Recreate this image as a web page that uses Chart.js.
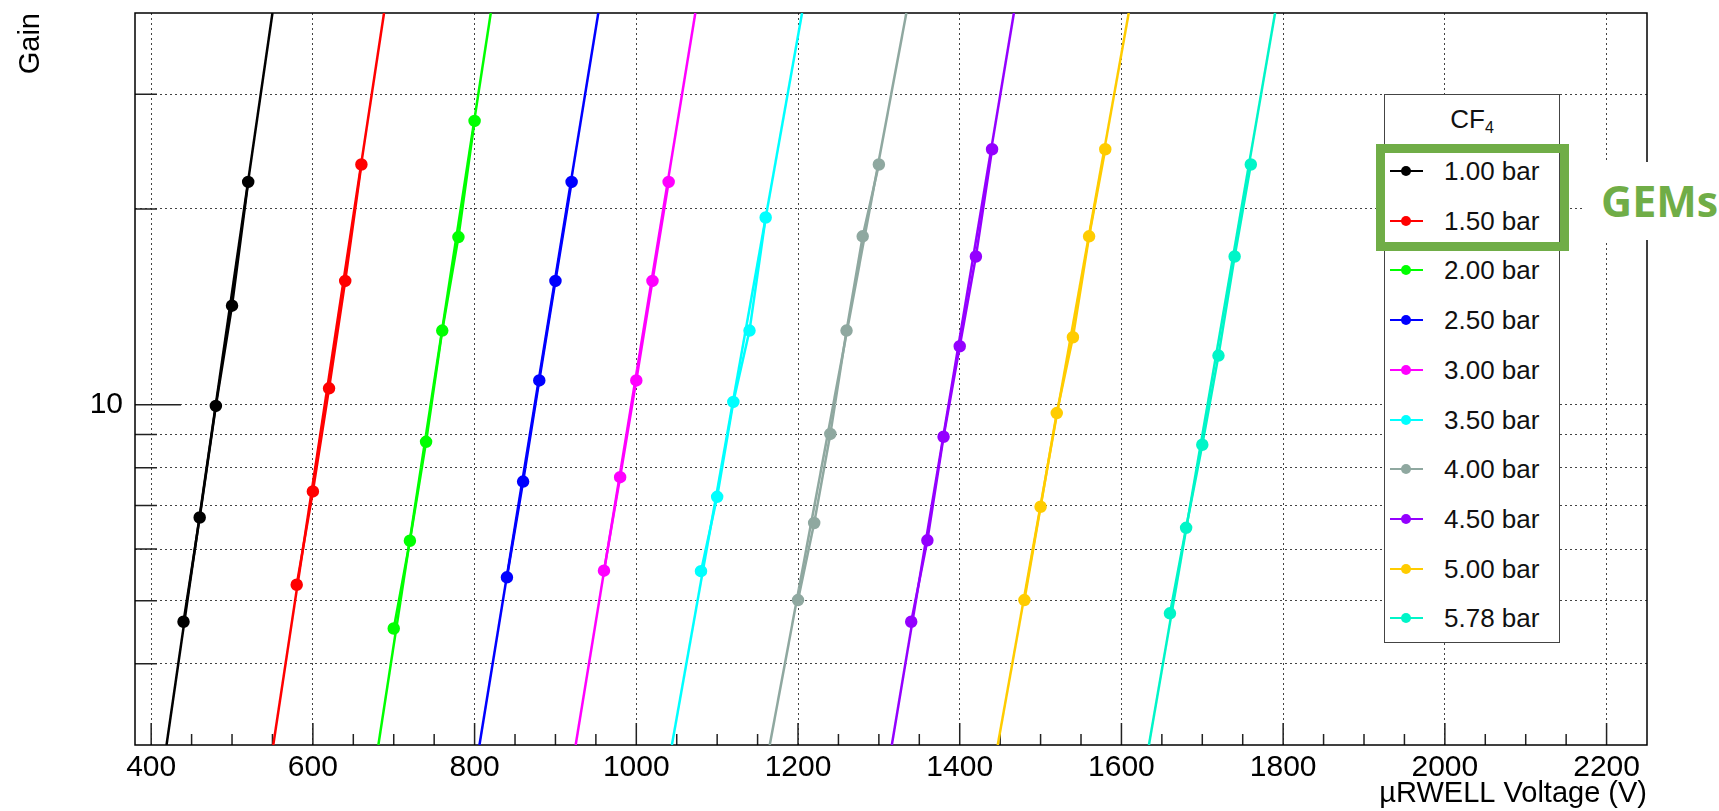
<!DOCTYPE html>
<html>
<head>
<meta charset="utf-8">
<title>Gain vs µRWELL Voltage</title>
<script src="https://cdn.jsdelivr.net/npm/chart.js@4.4.1/dist/chart.umd.min.js"></script>
<style>
  html, body { margin: 0; padding: 0; background: #fff; }
  #wrap { position: relative; width: 1719px; height: 811px; overflow: hidden; font-family: "Liberation Sans", Arial, sans-serif; }
  #legend { position: absolute; left: 1384px; top: 94px; width: 174px; height: 547px; border: 1.5px solid #444; background: #fff; }
  #legend .row { position: absolute; left: 0; width: 174px; height: 50px; line-height: 50px; font-size: 26px; color: #111; }
  #legend .title { text-align: center; }
  #legend .title sub { font-size: 16px; vertical-align: -5px; line-height: 0; }
  #legend .line { position: absolute; left: 5px; top: 24px; width: 33px; height: 2px; }
  #legend .dot { position: absolute; left: 16px; top: 20px; width: 10px; height: 10px; border-radius: 50%; }
  #legend .txt { position: absolute; left: 59px; top: 0; }
  #gemsBox { position: absolute; left: 1376px; top: 144px; width: 193px; height: 107px; box-sizing: border-box; border: 9px solid #70AD47; }
  #gemsLabel { position: absolute; left: 1582px; top: 162px; width: 137px; height: 78px; background: #fff; box-sizing: border-box; padding-left: 19px; line-height: 78px; font-family: "Open Sans", "Noto Sans", sans-serif; font-weight: bold; font-size: 43px; color: #70AD47; }
</style>
</head>
<body>
<div id="wrap">
  <canvas id="gainChart" width="1719" height="811"></canvas>
  <div id="legend"></div>
  <div id="gemsBox"></div>
  <div id="gemsLabel">GEMs</div>
</div>
<script>
// CF4 pressures and colours (ROOT palette)
const seriesLabels = ['1.00 bar', '1.50 bar', '2.00 bar', '2.50 bar', '3.00 bar', '3.50 bar', '4.00 bar', '4.50 bar', '5.00 bar', '5.78 bar'];
const seriesColors = ['#000000', '#ff0000', '#00ff00', '#0000ff', '#ff00ff', '#00ffff', '#8fa8a0', '#9400ff', '#ffcc00', '#00f5c8'];

// measured points, voltage (V) and gain
const voltage100 = [440, 460, 480, 500, 520];
const gain100 = [4.64, 6.71, 9.96, 14.2, 22.0];
const voltage150 = [580, 600, 620, 640, 660];
const gain150 = [5.29, 7.36, 10.6, 15.5, 23.4];
const voltage200 = [700, 720, 740, 760, 780, 800];
const gain200 = [4.53, 6.18, 8.77, 13.0, 18.1, 27.3];
const voltage250 = [840, 860, 880, 900, 920];
const gain250 = [5.43, 7.62, 10.9, 15.5, 22.0];
const voltage300 = [960, 980, 1000, 1020, 1040];
const gain300 = [5.56, 7.74, 10.9, 15.5, 22.0];
const voltage350 = [1080, 1100, 1120, 1140, 1160];
const gain350 = [5.55, 7.22, 10.1, 13.0, 19.4];
const voltage400 = [1200, 1220, 1240, 1260, 1280, 1300];
const gain400 = [5.01, 6.58, 9.02, 13.0, 18.15, 23.4];
const voltage450 = [1340, 1360, 1380, 1400, 1420, 1440];
const gain450 = [4.64, 6.19, 8.93, 12.3, 16.9, 24.7];
const voltage500 = [1480, 1500, 1520, 1540, 1560, 1580];
const gain500 = [5.01, 6.97, 9.71, 12.7, 18.15, 24.7];
const voltage578 = [1660, 1680, 1700, 1720, 1740, 1760];
const gain578 = [4.78, 6.47, 8.68, 11.9, 16.9, 23.4];

// exponential fits: voltage where each fit crosses gain 3 and gain 40
const fitGainEnds = [3, 40];
const fitVoltageLow = [419, 551, 681, 806, 925, 1044, 1165, 1316, 1447, 1634];
const fitVoltageHigh = [550, 688, 820, 953, 1073, 1205, 1334, 1467, 1609, 1790];

// axes
const yGridValues = [4, 5, 6, 7, 8, 9, 10, 20, 30];
const yLabelValues = [10];
const xLabelValues = [400, 600, 800, 1000, 1200, 1400, 1600, 1800, 2000, 2200];

const allVoltages = [voltage100, voltage150, voltage200, voltage250, voltage300, voltage350, voltage400, voltage450, voltage500, voltage578];
const allGains = [gain100, gain150, gain200, gain250, gain300, gain350, gain400, gain450, gain500, gain578];

const datasets = [];
seriesLabels.forEach((lab, i) => {
  datasets.push({
    label: lab + ' fit',
    data: fitGainEnds.map((g, k) => ({ x: k === 0 ? fitVoltageLow[i] : fitVoltageHigh[i], y: g })),
    borderColor: seriesColors[i],
    borderWidth: 2.5,
    pointRadius: 0,
    order: 2
  });
  datasets.push({
    label: lab,
    data: allVoltages[i].map((v, k) => ({ x: v, y: allGains[i][k] })),
    borderColor: seriesColors[i],
    backgroundColor: seriesColors[i],
    borderWidth: 2.5,
    pointRadius: 5,
    pointStyle: 'circle',
    order: 1
  });
});

// ROOT-like frame and inward tick marks
const rootFrame = {
  id: 'rootFrame',
  beforeDatasetsDraw(chart) {
    const { ctx, chartArea: a, scales: { x, y } } = chart;
    ctx.save();
    ctx.strokeStyle = '#222';
    ctx.lineWidth = 1.5;
    ctx.beginPath();
    x.ticks.forEach(t => {
      const px = x.getPixelForValue(t.value);
      const len = xLabelValues.includes(t.value) ? 22 : 11;
      ctx.moveTo(px, a.bottom);
      ctx.lineTo(px, a.bottom - len);
    });
    y.ticks.forEach(t => {
      const py = y.getPixelForValue(t.value);
      const len = yLabelValues.includes(t.value) ? 46 : 22;
      ctx.moveTo(a.left, py);
      ctx.lineTo(a.left + len, py);
    });
    ctx.stroke();
    ctx.strokeStyle = '#000';
    ctx.lineWidth = 1.5;
    ctx.strokeRect(a.left, a.top, a.right - a.left, a.bottom - a.top);
    ctx.restore();
  }
};

const tickFont = { family: '"Liberation Sans", Arial, sans-serif', size: 30 };
const titleFont = { family: '"Liberation Sans", Arial, sans-serif', size: 29 };

new Chart(document.getElementById('gainChart'), {
  type: 'line',
  data: { datasets },
  options: {
    responsive: false,
    devicePixelRatio: 1,
    animation: false,
    layout: { padding: { left: 0, right: 72, top: 13, bottom: 0 } },
    plugins: { legend: { display: false }, tooltip: { enabled: false } },
    elements: { line: { tension: 0 } },
    scales: {
      x: {
        type: 'linear',
        min: 380,
        max: 2250,
        afterBuildTicks: s => {
          const ticks = [];
          for (let v = 400; v <= 2200; v += 50) ticks.push({ value: v });
          s.ticks = ticks;
        },
        afterFit: s => { s.height = 66; s.paddingLeft = 0; s.paddingRight = 0; },
        ticks: {
          autoSkip: false, maxRotation: 0, minRotation: 0, padding: 5, color: '#000', font: tickFont,
          callback: v => xLabelValues.includes(v) ? String(v) : ''
        },
        grid: {
          drawTicks: false,
          lineWidth: 1,
          color: c => (c.tick && xLabelValues.includes(c.tick.value)) ? '#444' : 'rgba(0,0,0,0)'
        },
        border: { display: false, dash: [2, 3] },
        title: { display: true, text: 'µRWELL Voltage (V)', align: 'end', color: '#000', font: titleFont, padding: 0 }
      },
      y: {
        type: 'logarithmic',
        min: 3,
        max: 40,
        afterBuildTicks: s => { s.ticks = yGridValues.map(v => ({ value: v })); },
        afterFit: s => { s.width = 135; s.paddingTop = 0; s.paddingBottom = 0; },
        ticks: {
          autoSkip: false, padding: 12, color: '#000', font: tickFont,
          callback: v => yLabelValues.includes(v) ? String(v) : ''
        },
        grid: { drawTicks: false, lineWidth: 1, color: '#444' },
        border: { display: false, dash: [2, 3] },
        title: { display: true, text: 'Gain', align: 'end', color: '#000', font: titleFont, padding: { top: 14, bottom: 0 } }
      }
    }
  },
  plugins: [rootFrame]
});

// ROOT-style legend box
const legend = document.getElementById('legend');
const titleRow = document.createElement('div');
titleRow.className = 'row title';
titleRow.style.top = (118 - 94 - 25) + 'px';
titleRow.innerHTML = 'CF<sub>4</sub>';
legend.appendChild(titleRow);
seriesLabels.forEach((lab, i) => {
  const row = document.createElement('div');
  row.className = 'row';
  row.style.top = (170 + 49.7 * i - 94 - 25) + 'px';
  row.innerHTML = '<span class="line" style="background:' + seriesColors[i] + '"></span>' +
    '<span class="dot" style="background:' + seriesColors[i] + '"></span>' +
    '<span class="txt">' + lab + '</span>';
  legend.appendChild(row);
});
</script>
</body>
</html>
